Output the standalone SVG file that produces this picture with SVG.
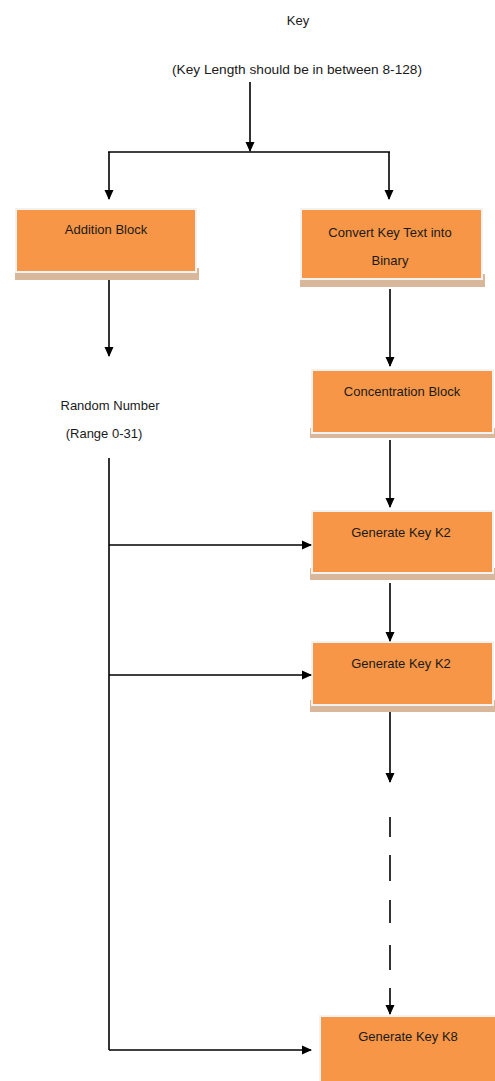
<svg xmlns="http://www.w3.org/2000/svg" width="495" height="1081" viewBox="0 0 495 1081">
<defs>
<marker id="ah" markerWidth="10" markerHeight="10" refX="9" refY="5" orient="auto" markerUnits="userSpaceOnUse">
<path d="M0,0.5 L10,5 L0,9.5 Z" fill="#000"/>
</marker>
<style>
.t{font-family:"Liberation Sans",Arial,sans-serif;font-size:13px;fill:#1a1a1a;text-anchor:middle}
.box{fill:#F79646;stroke:#f2f2f2;stroke-width:2}
.sh{fill:#d8b79a}
.c{stroke:#000;stroke-width:1.6;fill:none}
.a{marker-end:url(#ah)}
</style>
</defs>
<rect width="495" height="1081" fill="#fff"/>
<g id="key-label">
<text class="t" x="298" y="25">Key</text>
<text class="t" x="297" y="74" fill="#333" textLength="250" lengthAdjust="spacingAndGlyphs">(Key Length should be in between 8-128)</text>
</g>
<g id="addition">
<rect class="sh" x="15" y="268" width="184" height="12"/>
<rect class="box" x="16" y="209" width="180" height="63"/>
<text class="t" x="106" y="234">Addition Block</text>
</g>
<g id="convert">
<rect class="sh" x="300" y="274" width="185" height="13"/>
<rect class="box" x="301" y="209" width="181" height="70"/>
<text class="t" x="390" y="237">Convert Key Text into</text>
<text class="t" x="390" y="265">Binary</text>
</g>
<g id="random">
<text class="t" x="110" y="410">Random Number</text>
<text class="t" x="104" y="438">(Range 0-31)</text>
</g>
<g id="concentration">
<rect class="sh" x="310" y="428" width="185" height="10"/>
<rect class="box" x="312" y="370" width="181" height="63"/>
<text class="t" x="402" y="396">Concentration Block</text>
</g>
<g id="genk2a">
<rect class="sh" x="310" y="568" width="185" height="12"/>
<rect class="box" x="312" y="511" width="181" height="62"/>
<text class="t" x="401" y="537">Generate Key K2</text>
</g>
<g id="genk2b">
<rect class="sh" x="310" y="700" width="185" height="12"/>
<rect class="box" x="312" y="642" width="181" height="63"/>
<text class="t" x="401" y="668">Generate Key K2</text>
</g>
<g id="genk8">
<rect class="box" x="320" y="1016" width="178" height="68"/>
<text class="t" x="408" y="1041">Generate Key K8</text>
</g>
<g id="connectors">
<path class="c a" d="M250,82 V151"/>
<path class="c" d="M108,152 H390"/>
<path class="c a" d="M109,152 V199"/>
<path class="c a" d="M389,152 V199"/>
<path class="c a" d="M109,280 V356"/>
<path class="c a" d="M390,289 V366"/>
<path class="c a" d="M390,440 V507"/>
<path class="c a" d="M390,583 V641"/>
<path class="c a" d="M390,712 V782"/>
<path class="c" d="M390,817 V837 M390,855 V881 M390,900 V923 M390,945 V970"/>
<path class="c a" d="M390,988 V1014"/>
<path class="c" d="M109,458 V1050"/>
<path class="c a" d="M109,545 H311"/>
<path class="c a" d="M109,675 H311"/>
<path class="c a" d="M109,1050 H311"/>
</g>
</svg>
